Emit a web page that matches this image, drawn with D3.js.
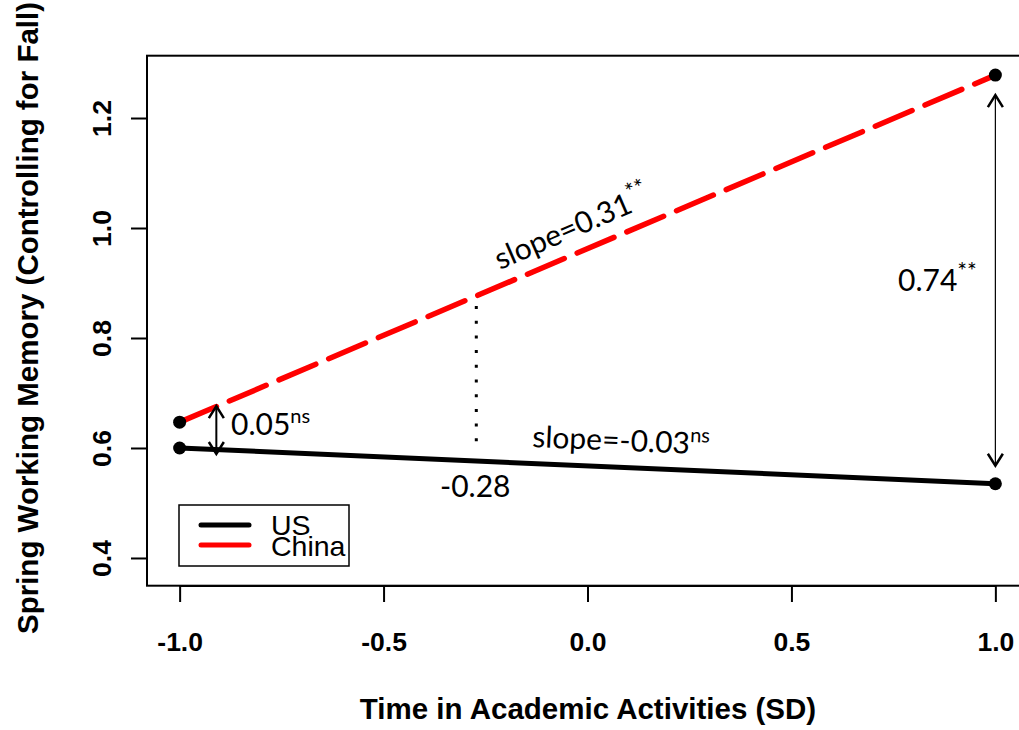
<!DOCTYPE html>
<html><head><meta charset="utf-8">
<script src="https://cdn.jsdelivr.net/npm/d3@7"></script>
<style>body{margin:0;background:#fff}svg{display:block}</style>
</head><body><svg id="c" width="1019" height="730"></svg>
<script>
const xVals = [-1, 1];
const usVals = [0.600, 0.535];
const chinaVals = [0.647, 1.278];
const seriesNames = ["US", "China"];
const xTicks = [-1.0, -0.5, 0.0, 0.5, 1.0];
const yTicks = [0.4, 0.6, 0.8, 1.0, 1.2];
const xTitle = "Time in Academic Activities (SD)";
const yTitle = "Spring Working Memory (Controlling for Fall)";
const crossX = -0.28;

const svg = d3.select("#c");
const x = d3.scaleLinear().domain([-1.08, 1.08]).range([147, 1028]);
const y = d3.scaleLinear().domain([0.3496, 1.3133]).range([585.7, 55.7]);
const fmt = d => d.toFixed(1);

svg.append("rect").attr("x", 147).attr("y", 55.7).attr("width", 1028-147).attr("height", 530)
  .attr("fill", "none").attr("stroke", "#000").attr("stroke-width", 2);

const bold = "'Liberation Sans', Arial, sans-serif";
const xa = svg.append("g").attr("transform", "translate(0,586)")
  .call(d3.axisBottom(x).tickValues(xTicks).tickFormat(fmt).tickSize(16).tickPadding(30));
xa.select(".domain").attr("stroke-width", 2).attr("d", `M${x(-1)},0H${x(1)}`);
xa.selectAll(".tick line").attr("stroke-width", 2);
xa.selectAll("text").attr("font-family", bold).attr("font-weight", "bold").attr("font-size", 26.5).attr("fill", "#000");

const ya = svg.append("g").attr("transform", "translate(147,0)")
  .call(d3.axisLeft(y).tickValues(yTicks).tickFormat(fmt).tickSize(16).tickPadding(0));
ya.select(".domain").attr("stroke-width", 2).attr("d", `M0,${y(0.4)}V${y(1.2)}`);
ya.selectAll(".tick line").attr("stroke-width", 2);
ya.selectAll("text").attr("font-family", bold).attr("font-weight", "bold").attr("font-size", 26.5).attr("fill", "#000")
  .attr("text-anchor", "middle").attr("x", 0).attr("dy", 0)
  .attr("transform", "translate(-36,0) rotate(-90)");

svg.append("text").attr("x", 588).attr("y", 719).attr("text-anchor", "middle")
  .attr("font-family", bold).attr("font-weight", "bold").attr("font-size", 29.5).text(xTitle);
svg.append("text").attr("transform", "translate(38,318) rotate(-90)").attr("text-anchor", "middle")
  .attr("font-family", bold).attr("font-weight", "bold").attr("font-size", 29.5).text(yTitle);

const line = d3.line().x(d => x(d[0])).y(d => y(d[1]));
svg.append("path").datum(xVals.map((v, i) => [v, usVals[i]])).attr("d", line)
  .attr("stroke", "#000").attr("stroke-width", 5).attr("fill", "none");
svg.append("path").datum(xVals.map((v, i) => [v, chinaVals[i]])).attr("d", line)
  .attr("stroke", "#ff0000").attr("stroke-width", 5.5).attr("fill", "none")
  .attr("stroke-dasharray", "40,14").attr("stroke-linecap", "round");

[usVals, chinaVals].forEach(vals => {
  svg.selectAll(null).data(xVals.map((v, i) => [v, vals[i]])).enter().append("circle")
    .attr("cx", d => x(d[0])).attr("cy", d => y(d[1])).attr("r", 6.5).attr("fill", "#000");
});

function arrow(xp, y1, y2, sw) {
  const g = svg.append("g").attr("stroke", "#000").attr("fill", "none").attr("stroke-width", sw);
  g.append("line").attr("x1", xp).attr("x2", xp).attr("y1", y1).attr("y2", y2);
  g.append("path").attr("d", `M${xp-7.5},${y1+12}L${xp},${y1}L${xp+7.5},${y1+12}`).attr("stroke-width", 2.5);
  g.append("path").attr("d", `M${xp-7.5},${y2-12}L${xp},${y2}L${xp+7.5},${y2-12}`).attr("stroke-width", 2.5);
}
arrow(x(-0.91), y(chinaVals[0]) - 16, y(usVals[0]) + 6, 2);
arrow(x(1), y(chinaVals[1]) + 20, y(usVals[1]) - 18, 1.2);

svg.append("line").attr("x1", x(crossX)+3).attr("x2", x(crossX)+3)
  .attr("y1", 306).attr("y2", y(0.61))
  .attr("stroke", "#000").attr("stroke-width", 3).attr("stroke-dasharray", "3,11.7");

const ann = "Lato, 'Open Sans', sans-serif";
function label(tx, ty, rot, main, sup) {
  const t = svg.append("text").attr("transform", `translate(${tx},${ty}) rotate(${rot})`)
    .attr("font-family", ann).attr("font-size", 30).attr("fill", "#000");
  t.append("tspan").text(main);
  if (sup) t.append("tspan").attr("font-size", sup === "**" ? 23 : 20).attr("dy", -12).text(sup);
}
label(231, 435, 0, "0.05", "ns");
label(500, 270, -23.5, "slope=0.31", "**");
label(532, 447, 2.5, "slope=-0.03", "ns");
label(440, 497, 0, "-0.28", null);
label(898, 291, 0, "0.74", "**");

svg.append("rect").attr("x", 179).attr("y", 505).attr("width", 170).attr("height", 61)
  .attr("fill", "#fff").attr("stroke", "#000").attr("stroke-width", 1.5);
const lcol = ["#000", "#ff0000"];
seriesNames.forEach((n, i) => {
  svg.append("line").attr("x1", 201).attr("x2", 249).attr("y1", 525 + i*20).attr("y2", 525 + i*20)
    .attr("stroke", lcol[i]).attr("stroke-width", 5).attr("stroke-linecap", "round");
  svg.append("text").attr("x", 271).attr("y", 535 + i*21).attr("font-family", bold)
    .attr("font-size", 28.5).text(n);
});
</script></body></html>
